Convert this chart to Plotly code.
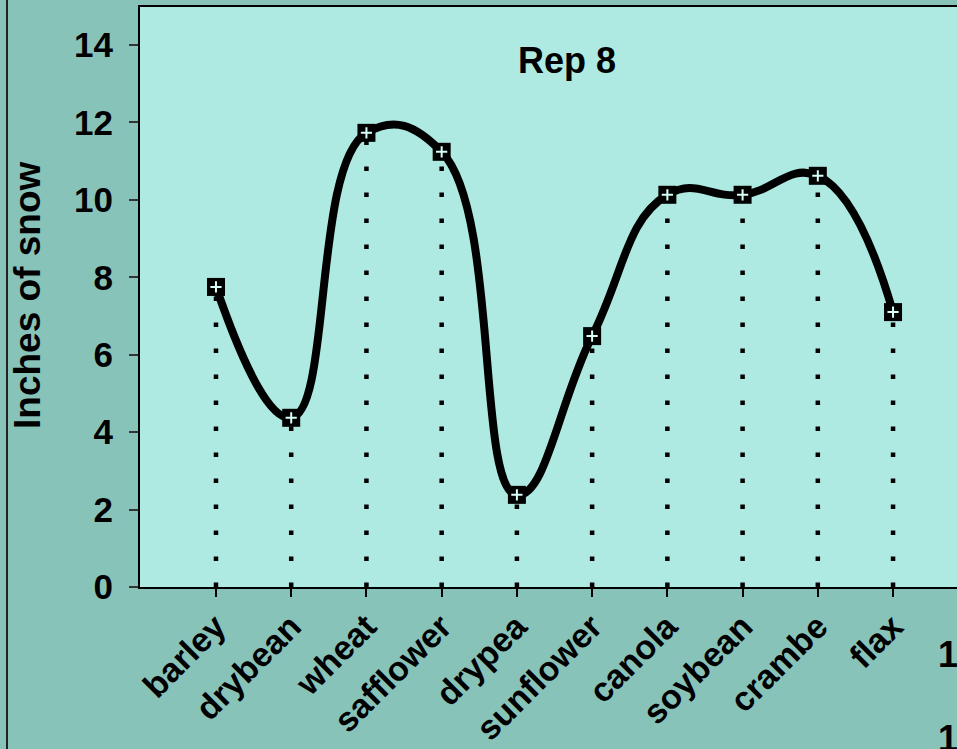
import plotly.graph_objects as go

categories = ["barley", "drybean", "wheat", "safflower", "drypea",
              "sunflower", "canola", "soybean", "crambe", "flax"]
snow = [7.75, 4.37, 11.73, 11.24, 2.38, 6.48, 10.13, 10.13, 10.62, 7.10]
y_ticks = [0, 2, 4, 6, 8, 10, 12, 14]
title_text = "Rep 8"
y_title = "Inches of snow"
stray_labels = ["1", "1"]

FONT = "Liberation Sans, Arial, sans-serif"
OUTER = "#88C3BA"
INNER = "#AEEAE2"

xs = list(range(len(categories)))

fig = go.Figure()

# dotted drop lines
for i, v in zip(xs, snow):
    fig.add_trace(go.Scatter(
        x=[i, i], y=[0, v], mode="lines",
        line=dict(color="black", width=4.5, dash="4.5px,21.5px"),
        hoverinfo="skip", showlegend=False))

# smoothed line
fig.add_trace(go.Scatter(
    x=xs, y=snow, mode="lines",
    line=dict(color="black", width=8, shape="spline", smoothing=1.3),
    showlegend=False))

# square markers
fig.add_trace(go.Scatter(
    x=xs, y=snow, mode="markers",
    marker=dict(symbol="square", size=18, color="black", line=dict(width=0)),
    showlegend=False))
fig.add_trace(go.Scatter(
    x=xs, y=snow, mode="markers",
    marker=dict(symbol="cross-thin", size=8, color="#D8FFF8",
                line=dict(color="#D8FFF8", width=2)),
    showlegend=False))

fig.update_layout(
    width=957, height=749,
    margin=dict(l=140, r=0, t=7, b=162),
    paper_bgcolor=OUTER, plot_bgcolor=INNER,
    font=dict(family=FONT, color="black"),
    showlegend=False,
    xaxis=dict(
        range=[-1.01, 9.85], tickmode="array", tickvals=xs,
        ticktext=[f"<b>{c}</b>" for c in categories],
        tickangle=-45, tickfont=dict(size=34, family=FONT, color="black"),
        ticks="outside", ticklen=8, tickwidth=2, tickcolor="black",
        ticklabelstandoff=-4,
        showline=True, linecolor="black", linewidth=2, mirror=True,
        showgrid=False, zeroline=False),
    yaxis=dict(
        range=[0, 14.98], tickmode="array", tickvals=y_ticks,
        ticktext=[f"<b>{t}</b>" for t in y_ticks],
        tickfont=dict(size=35, family=FONT, color="black"),
        ticks="outside", ticklen=9, tickwidth=2, tickcolor="#333",
        ticklabelstandoff=9,
        showline=True, linecolor="black", linewidth=2,
        showgrid=False, zeroline=False),
)

annotations = [
    dict(text=f"<b>{title_text}</b>", xref="paper", yref="paper",
         x=(567 - 140) / 817, y=(587 - 61) / 580, xanchor="center", yanchor="middle",
         showarrow=False, font=dict(size=36, family=FONT, color="black")),
    dict(text=f"<b>{y_title}</b>", xref="paper", yref="paper",
         x=(27 - 140) / 817, y=(587 - 296) / 580, xanchor="center", yanchor="middle",
         textangle=-90, showarrow=False, font=dict(size=37, family=FONT, color="black")),
]
for lab, py in zip(stray_labels, [654, 738]):
    annotations.append(dict(text=f"<b>{lab}</b>", xref="paper", yref="paper",
                            x=(936 - 140) / 817, y=(587 - py) / 580,
                            xanchor="left", yanchor="middle", showarrow=False,
                            font=dict(size=36, family=FONT, color="black")))
fig.update_layout(annotations=annotations)

fig.add_shape(type="line", xref="paper", yref="paper",
              x0=(7 - 140) / 817, x1=(7 - 140) / 817, y0=-162 / 580, y1=(587) / 580,
              line=dict(color="#222", width=2))

fig.write_html("out.html", config={"displayModeBar": False},
               post_script="document.body.style.margin='0';document.body.style.overflow='hidden';")
